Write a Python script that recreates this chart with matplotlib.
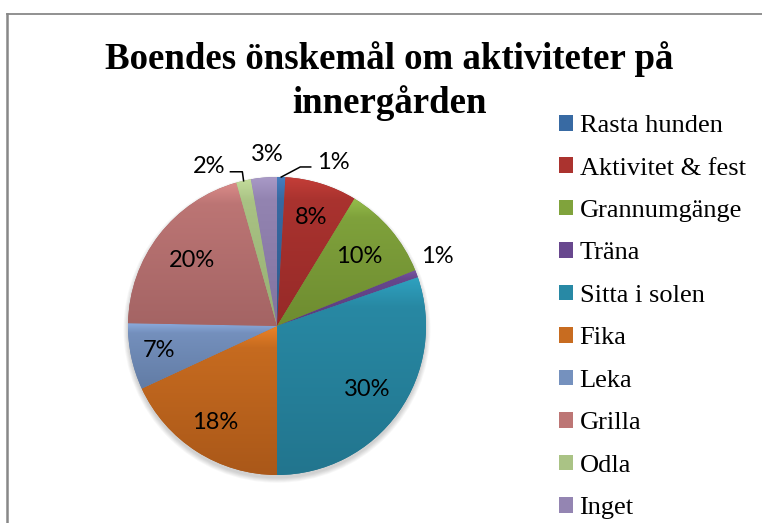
import numpy as np
import matplotlib
matplotlib.use('Agg')
import matplotlib.pyplot as plt
from matplotlib.colors import to_rgb
from matplotlib.patches import Patch, Circle
from matplotlib.lines import Line2D

# data (percent of answers)
labels = ['Rasta hunden', 'Aktivitet & fest', 'Grannumgänge', 'Träna', 'Sitta i solen',
          'Fika', 'Leka', 'Grilla', 'Odla', 'Inget']
values = [0.9, 7.8, 10.2, 0.8, 30.3, 18.1, 7.2, 20.3, 1.6, 2.8]

# gradient colours, top -> bottom of each slice
top_cols = ['#467EC0', '#C43E38', '#96BE4B', '#7855A2', '#2FA2C0',
            '#EC8428', '#8CAADC', '#DC8C8A', '#C3DC9B', '#AA9BC8']
bot_cols = ['#2D5A8C', '#962A28', '#6E8C30', '#5A3C7D', '#22758E',
            '#AA5819', '#627CA5', '#A46464', '#96AF73', '#8273A0']

# label placement: radius and angle shift from slice middle
label_r = [1.16, 0.76, 0.72, 1.17, 0.74, 0.77, 0.81, 0.72, 1.16, 1.15]
label_dang = [-17.3, 0, 0, 2.8, 0, 0, 0, 0, 10, -1.7]

W, H = 762, 523
fig = plt.figure(figsize=(W / 100, H / 100), dpi=100)

# pie axes: centre (277, 326) px, radius 149 px, some margin so the edge is not cut
cx, cy, r = 277, 326, 149
m = 1.15
ax = fig.add_axes([(cx - r * m) / W, (H - cy - r * m) / H, 2 * r * m / W, 2 * r * m / H])

wedges, _ = ax.pie(values, startangle=90, counterclock=False, radius=1.0,
                   wedgeprops=dict(linewidth=0))

# soft shadow under the pie
for i in range(6):
    ax.add_patch(Circle((0, -0.022), 1.0 + 0.006 * i, color='black',
                        alpha=0.03, zorder=0, lw=0))

t = np.linspace(0, 1, 256)
f = (0.5 * np.minimum(t / 0.15, 1) + 0.5 * t)[:, None, None]
for w, ct, cb in zip(wedges, top_cols, bot_cols):
    w.set_facecolor(cb)
    ys = w.get_path().vertices[:, 1]
    top = np.array(to_rgb(ct))[None, None, :]
    bot = np.array(to_rgb(cb))[None, None, :]
    img = top * (1 - f) + bot * f
    im = ax.imshow(img, extent=(-1, 1, ys.min(), ys.max()), origin='upper',
                   aspect='auto', zorder=2, interpolation='bilinear')
    im.set_clip_path(w)

ax.set_xlim(-m, m)
ax.set_ylim(-m, m)
ax.axis('off')

# percentage labels
pct_font = dict(family='Lato', fontsize=17, color='black')
pos = []
for w, v, lr, da in zip(wedges, values, label_r, label_dang):
    ang = np.deg2rad((w.theta1 + w.theta2) / 2 + da)
    x, y = lr * np.cos(ang), lr * np.sin(ang)
    pos.append((x, y))
    ax.text(x, y, f'{v:.0f}%', ha='center', va='center', zorder=5, **pct_font)

# leader lines for the two small top slices
def leader(i, pts):
    w = wedges[i]
    a = np.deg2rad((w.theta1 + w.theta2) / 2)
    xs = [np.cos(a)] + [p[0] for p in pts]
    ys = [np.sin(a)] + [p[1] for p in pts]
    ax.plot(xs, ys, color='black', lw=1.1, zorder=5, clip_on=False)

tx, ty = pos[0]
leader(0, [(tx - 0.22, ty - 0.03), (tx - 0.15, ty - 0.03)])
tx, ty = pos[8]
leader(8, [(tx + 0.22, ty - 0.033), (tx + 0.14, ty - 0.033)])

# title, two lines
title_font = dict(family='Liberation Serif', fontweight='bold', fontsize=26.6,
                  ha='center', va='baseline')
fig.text(389 / W, 1 - 69 / H, 'Boendes önskemål om aktiviteter på', **title_font)
fig.text(389 / W, 1 - 113 / H, 'innergården', **title_font)

# legend
mid_cols = [tuple((np.array(to_rgb(a)) * 0.45 + np.array(to_rgb(b)) * 0.55))
            for a, b in zip(top_cols, bot_cols)]
handles = [Patch(facecolor=c, edgecolor='none') for c in mid_cols]
fig.legend(handles, labels, loc='upper left', bbox_to_anchor=(559 / W, 1 - 115 / H),
           frameon=False, borderpad=0, borderaxespad=0,
           prop=dict(family='Liberation Serif', size=19),
           handlelength=0.53, handleheight=0.53, handletextpad=0.25,
           labelspacing=0.77)

# chart border (top and left visible)
bx, by = 6.5 / W, 1 - 14 / H
fig.add_artist(Line2D([bx, 1], [by, by], color='#888888', lw=1.3, transform=fig.transFigure))
fig.add_artist(Line2D([bx, bx], [0, by], color='#888888', lw=1.8, transform=fig.transFigure))

fig.savefig('out.png', dpi=100)
